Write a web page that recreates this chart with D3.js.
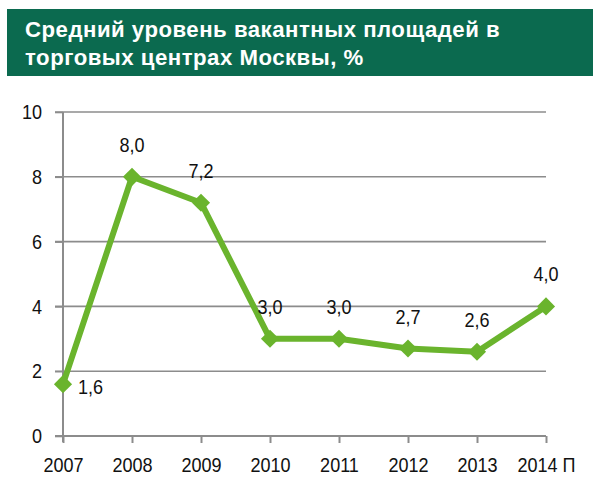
<!DOCTYPE html>
<html><head><meta charset="utf-8">
<script src="https://cdn.jsdelivr.net/npm/d3@7"></script>
<style>body{margin:0;background:#fff}svg{display:block}text{font-family:"Liberation Sans",Arial,sans-serif}</style>
</head><body><svg id="c" width="600" height="493"></svg>
<script>
const categories = ["2007","2008","2009","2010","2011","2012","2013","2014 П"];
const values = [1.6, 8.0, 7.2, 3.0, 3.0, 2.7, 2.6, 4.0];
const labels = ["1,6","8,0","7,2","3,0","3,0","2,7","2,6","4,0"];
const yTicks = [0,2,4,6,8,10];
const titleLines = ["Средний уровень вакантных площадей в","торговых центрах Москвы, %"];

const SX = 0.86, FS = 21;
const svg = d3.select("#c");
svg.append("rect").attr("x",7).attr("y",9).attr("width",586).attr("height",67).attr("fill","#0b6a4f");
svg.append("text").attr("x",25).attr("y",37).attr("fill","#fff").attr("font-size",22.2).attr("font-weight","bold")
  .attr("letter-spacing",0.5)
  .selectAll("tspan").data(titleLines).join("tspan").attr("x",25).attr("dy",(d,i)=>i?28:0).text(d=>d);

const x = d3.scalePoint().domain(categories).range([63,546]).padding(0);
const y = d3.scaleLinear().domain([0,10]).range([436,112]);

svg.append("g").selectAll("line").data(yTicks.filter(d=>d>0)).join("line")
  .attr("x1",55).attr("x2",546).attr("y1",d=>y(d)).attr("y2",d=>y(d))
  .attr("stroke","#8c8c8c").attr("stroke-width",1.6);
const ya = svg.append("g").attr("transform","translate(63,0)").call(d3.axisLeft(y).tickValues(yTicks).tickSize(8).tickPadding(13).tickFormat(d3.format("d")));
ya.select(".domain").remove();
ya.selectAll(".tick line").attr("stroke","#8c8c8c").attr("stroke-width",1.6);
ya.selectAll(".tick text").attr("font-size",FS).attr("fill","#111").attr("font-family",null)
  .attr("x",-21/SX).attr("transform",`scale(${SX},1)`);
svg.append("line").attr("x1",63).attr("x2",63).attr("y1",112).attr("y2",442).attr("stroke","#8c8c8c").attr("stroke-width",2);
const xa = svg.append("g").attr("transform","translate(0,436)").call(d3.axisBottom(x).tickSize(7).tickPadding(14));
xa.select(".domain").attr("stroke","#8c8c8c").attr("stroke-width",2).attr("d","M55,0H546");
xa.selectAll(".tick line").attr("stroke","#8c8c8c").attr("stroke-width",2);
xa.selectAll(".tick text").attr("font-size",FS).attr("fill","#111").attr("font-family",null)
  .attr("transform",`scale(${SX},1)`);

const line = d3.line().x((d,i)=>x(categories[i])).y(d=>y(d));
svg.append("path").datum(values).attr("d",line).attr("fill","none").attr("stroke","#6ab42d").attr("stroke-width",6).attr("stroke-linejoin","round");
svg.selectAll("path.pt").data(values).join("path")
  .attr("d",d3.symbol().type(d3.symbolDiamond2).size(210))
  .attr("transform",(d,i)=>`translate(${x(categories[i])},${y(d)})`)
  .attr("fill","#6ab42d");
svg.selectAll("text.lbl").data(values).join("text")
  .attr("transform",(d,i)=> i===0
      ? `translate(${x(categories[i])+15},${y(d)+10}) scale(${SX},1)`
      : `translate(${x(categories[i])},${y(d)-25}) scale(${SX},1)`)
  .attr("text-anchor",(d,i)=> i===0 ? "start":"middle")
  .attr("font-size",FS).attr("fill","#111")
  .text((d,i)=>labels[i]);
</script></body></html>
